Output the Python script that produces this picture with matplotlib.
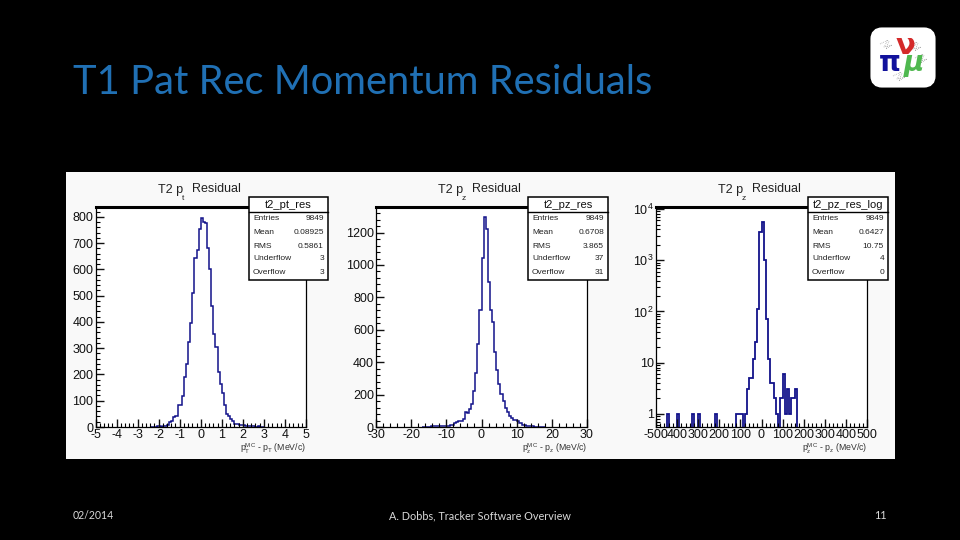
import numpy as np
import matplotlib
matplotlib.use('Agg')
import matplotlib.pyplot as plt
from matplotlib.patches import Rectangle, FancyBboxPatch
from matplotlib.ticker import MultipleLocator

plt.rcParams['font.family'] = ['Liberation Sans', 'DejaVu Sans']
plt.rcParams['mathtext.default'] = 'regular'
plt.rcParams['axes.unicode_minus'] = False

# histogram contents
pt_start = -2.4
pt_counts = [1, 1, 1, 2, 2, 1, 3, 4, 8, 18, 22, 38, 42, 85, 82, 118, 192, 240, 325, 395,
             510, 645, 675, 755, 795, 780, 778, 680, 600, 460, 355, 305, 210, 165, 130,
             85, 48, 40, 32, 22, 12, 10, 8, 6, 8, 5, 3, 3, 2, 2, 1, 2, 1, 1]

pz_start = -16.8
pz_counts = [2, 1, 3, 2, 4, 6, 5, 6, 5, 4, 6, 8, 7, 10, 12, 22, 28, 40, 36, 50, 90, 88, 110,
             140, 225, 335, 515, 720, 1045, 1295, 1220, 895, 720, 650, 463, 350, 267,
             205, 160, 120, 90, 70, 55, 45, 42, 35, 25, 15, 10, 8, 6, 5, 4, 3, 2, 3, 2, 1]

log_edges = np.arange(-500, 510, 10)
log_counts = np.zeros(100)
log_bins = [5, 10, 17, 20, 28, 38, 39, 40, 42, 43, 44, 45, 46, 47, 48, 49, 50, 51, 52,
            53, 54, 55, 56, 57, 59, 60, 61, 62, 63, 64, 65, 66]
log_vals = [1, 1, 1, 1, 1, 1, 1, 1, 1, 3, 5, 5, 12, 25, 110, 3600, 5600, 1000, 70,
            12, 4, 4, 2, 1, 2, 6, 1, 3, 1, 2, 2, 3]
log_counts[log_bins] = log_vals

stat_names = ['Entries', 'Mean', 'RMS', 'Underflow', 'Overflow']
pt_stats = ['9849', '0.08925', '0.5861', '3', '3']
pz_stats = ['9849', '0.6708', '3.865', '37', '31']
log_stats = ['9849', '0.6427', '10.75', '4', '0']

NAVY = '#12128a'
W, H = 960, 540


def add_axes_px(x0, x1, y0, y1):
    return fig.add_axes([x0 / W, 1 - y1 / H, (x1 - x0) / W, (y1 - y0) / H], zorder=1)


def px_layer(z):
    a = fig.add_axes([0, 0, 1, 1], zorder=z)
    a.set_xlim(0, W)
    a.set_ylim(H, 0)
    a.axis('off')
    return a


def style_axes(ax):
    ax.tick_params(which='major', direction='in', length=6, width=1, labelsize=9,
                   pad=1.5, colors='#111111', top=False, right=False)
    ax.tick_params(which='minor', direction='in', length=3, width=0.8, top=False, right=False)
    for s in ax.spines.values():
        s.set_linewidth(0.9)
    ax.spines['top'].set_linewidth(2.2)
    ax.patch.set_facecolor('white')


def stats_box(x0, x1, name, vals):
    over.add_patch(Rectangle((x0, 197), x1 - x0, 83, fc='white', ec='black', lw=1.1, zorder=5))
    over.plot([x0, x1], [212, 212], color='black', lw=1, zorder=6)
    over.text((x0 + x1) / 2, 205, name, fontsize=8, ha='center', va='center', color='#111111', zorder=7)
    for yy, a, b in zip([218, 232, 246, 259, 273], stat_names, vals):
        over.text(x0 + 4, yy, a, fontsize=6, va='center', color='#222222', zorder=7)
        over.text(x1 - 4, yy, b, fontsize=6, va='center', ha='right', color='#222222', zorder=7)


def hist_title(x_left, sub):
    over.text(x_left, 189.5, 'T2 p', fontsize=9, va='center', color='#222222')
    over.text(x_left + 24, 198, sub, fontsize=6, va='center', color='#222222')
    over.text(x_left + 34, 189.5, 'Residual', fontsize=9, va='center', color='#222222')


fig = plt.figure(figsize=(9.6, 5.4), dpi=100, facecolor='black')

back = px_layer(0)
over = px_layer(3)
back.add_patch(Rectangle((66, 172), 829, 287, fc='#f9f9f9', ec='none'))

# slide text
back.text(73, 83, 'T1 Pat Rec Momentum Residuals', fontsize=28.7, family='Lato', color='#2070b4', va='center')
back.text(73, 515.5, '02/2014', fontsize=7.6, family='Lato', color='#d9d9d9', va='center')
back.text(480, 515.5, 'A. Dobbs, Tracker Software Overview', fontsize=7.8, family='Lato',
          color='#d9d9d9', va='center', ha='center')
back.text(880, 515.5, '11', fontsize=7.8, family='Lato', color='#d9d9d9', va='center', ha='center')

# logo
back.add_patch(FancyBboxPatch((876, 33), 54, 49, boxstyle='round,pad=0,rounding_size=6', fc='white', ec='white', lw=8))
for cx, cy in [(886, 44), (915, 46), (899, 76), (921, 58)]:
    back.plot([cx - 6, cx + 2, cx - 2, cx + 6, cx, cx + 3], [cy, cy - 4, cy + 3, cy + 1, cy + 5, cy - 3],
              color='#888888', lw=0.5, ls=':')
back.text(890, 63, 'π', fontsize=20, family='DejaVu Sans', color='#12129c', ha='center', va='center', weight='bold')
back.text(905, 46, 'ν', fontsize=21, family='DejaVu Sans', color='#d42a2a', ha='center', va='center', weight='bold')
back.text(914, 63, 'μ', fontsize=20, family='DejaVu Sans', color='#4fb84f', ha='center', va='center', weight='bold',
          style='italic')

# pt residual
ax1 = add_axes_px(95.5, 306, 207, 427)
ax1.stairs(pt_counts, pt_start + 0.1 * np.arange(len(pt_counts) + 1), color=NAVY, lw=1.1)
ax1.set_xlim(-5, 5)
ax1.set_ylim(0, 838)
ax1.xaxis.set_major_locator(MultipleLocator(1))
ax1.xaxis.set_minor_locator(MultipleLocator(0.2))
ax1.yaxis.set_major_locator(MultipleLocator(100))
ax1.yaxis.set_minor_locator(MultipleLocator(20))
style_axes(ax1)

# pz residual
ax2 = add_axes_px(376, 587, 207, 427)
ax2.stairs(pz_counts, pz_start + 0.6 * np.arange(len(pz_counts) + 1), color=NAVY, lw=1.1)
ax2.set_xlim(-30, 30)
ax2.set_ylim(0, 1358)
ax2.xaxis.set_major_locator(MultipleLocator(10))
ax2.xaxis.set_minor_locator(MultipleLocator(2))
ax2.yaxis.set_major_locator(MultipleLocator(200))
ax2.yaxis.set_minor_locator(MultipleLocator(40))
style_axes(ax2)

# pz residual, wide range on a log scale
ax3 = add_axes_px(656, 867, 207, 427)
ax3.stairs(log_counts, log_edges, color=NAVY, lw=1.3, baseline=None)
ax3.set_yscale('log')
ax3.set_xlim(-500, 500)
ax3.set_ylim(0.55, 11000)
ax3.set_xticks(np.arange(-500, 600, 100))
ax3.set_xticklabels(['-500', '400', '300', '200', '100', '0', '100', '200', '300', '400', '500'])
ax3.xaxis.set_minor_locator(MultipleLocator(20))
ax3.set_yticks([1, 10, 100, 1000, 10000])
ax3.set_yticklabels(['1', '10', '$10^2$', '$10^3$', '$10^4$'])
style_axes(ax3)

hist_title(158, 't')
hist_title(438, 'z')
hist_title(718, 'z')

stats_box(249, 328, 't2_pt_res', pt_stats)
stats_box(528, 608, 't2_pz_res', pz_stats)
stats_box(808, 888, 't2_pz_res_log', log_stats)

for x_right, lab in [(306, r'$p_T^{MC}$ - $p_T$ (MeV/c)'),
                     (587, r'$p_z^{MC}$ - $p_z$ (MeV/c)'),
                     (867, r'$p_z^{MC}$ - $p_z$ (MeV/c)')]:
    over.text(x_right, 449, lab, fontsize=6.3, ha='right', va='center', color='#333333')

fig.savefig('out.png', dpi=100, facecolor='black')
